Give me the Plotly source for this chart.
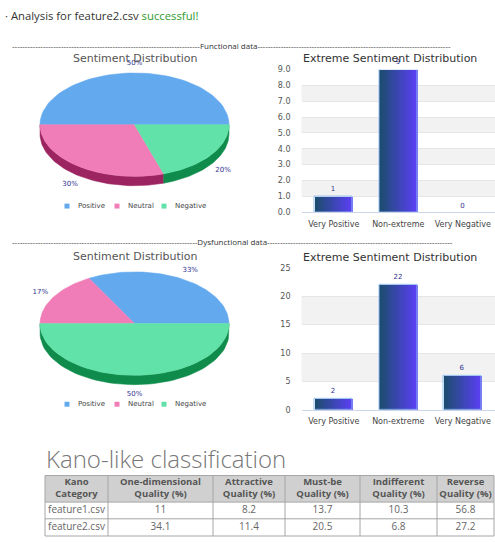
import math
import plotly.graph_objects as go

# ---------------------------------------------------------------- data
sentiment_labels = ["Positive", "Neutral", "Negative"]
functional_share = [50, 30, 20]
dysfunctional_share = [33, 17, 50]

extreme_labels = ["Very Positive", "Non-extreme", "Very Negative"]
functional_extreme = [1, 9, 0]
dysfunctional_extreme = [2, 22, 6]

kano_header = ["Kano<br>Category", "One-dimensional<br>Quality (%)", "Attractive<br>Quality (%)",
               "Must-be<br>Quality (%)", "Indifferent<br>Quality (%)", "Reverse<br>Quality (%)"]
kano_files = ["feature1.csv", "feature2.csv"]
one_dimensional = [11, 34.1]
attractive = [8.2, 11.4]
must_be = [13.7, 20.5]
indifferent = [10.3, 6.8]
reverse = [56.8, 27.2]

# ---------------------------------------------------------------- layout constants
W, H = 495, 542
TOP_COLORS = ["#63a9ee", "#f07db7", "#61e2a8"]
SIDE_COLORS = ["#2d6bb0", "#9c2461", "#0f8c4c"]
LABEL_COLOR = "#33338f"
PIE_SCALE = 94.5          # px per unit radius
PIE_TILT = 52.6 / 94.5    # vertical squash of the top face
PIE_DEPTH = 9.5 / 94.5    # thickness of the disc


def fx(x):
    return x / W


def fy(y):
    return 1 - y / H


fig = go.Figure()


def pie_axes(idx, cx, cy, hw=125, hh=80):
    fig.layout[f"xaxis{idx}"] = dict(domain=[fx(cx - hw), fx(cx + hw)],
                                     range=[-hw / PIE_SCALE, hw / PIE_SCALE],
                                     visible=False, fixedrange=True)
    fig.layout[f"yaxis{idx}"] = dict(domain=[fy(cy + hh), fy(cy - hh)],
                                     range=[-hh / PIE_SCALE, hh / PIE_SCALE],
                                     visible=False, fixedrange=True)


def arc(t0, t1, dy=0.0, n=60):
    pts = []
    for k in range(n + 1):
        t = math.radians(t0 + (t1 - t0) * k / n)
        pts.append((math.cos(t), PIE_TILT * math.sin(t) - dy))
    return pts


def pie3d(values, idx):
    xa, ya = f"x{idx}", f"y{idx}"
    total = float(sum(values))
    spans, start = [], 0.0
    for v in values:
        end = start + 360.0 * v / total
        spans.append((start, end))
        start = end
    # front walls of the disc
    for (t0, t1), col in zip(spans, SIDE_COLORS):
        lo, hi = max(t0, 180.0), min(t1, 360.0)
        if lo < hi:
            pts = arc(lo, hi) + arc(hi, lo, PIE_DEPTH)
            fig.add_trace(go.Scatter(x=[p[0] for p in pts] + [pts[0][0]],
                                     y=[p[1] for p in pts] + [pts[0][1]],
                                     xaxis=xa, yaxis=ya, mode="lines", fill="toself",
                                     fillcolor=col, line=dict(color=col, width=0.5),
                                     hoverinfo="skip", showlegend=False))
    # top faces
    for (t0, t1), col in zip(spans, TOP_COLORS):
        pts = [(0.0, 0.0)] + arc(t0, t1) + [(0.0, 0.0)]
        fig.add_trace(go.Scatter(x=[p[0] for p in pts], y=[p[1] for p in pts],
                                 xaxis=xa, yaxis=ya, mode="lines", fill="toself",
                                 fillcolor=col, line=dict(color=col, width=0.5),
                                 hoverinfo="skip", showlegend=False))
    # percentage labels outside the rim
    lx, ly, lt = [], [], []
    for (t0, t1), v in zip(spans, values):
        tm = math.radians((t0 + t1) / 2)
        s = math.sin(tm)
        lx.append((1 + 15 / PIE_SCALE) * math.cos(tm))
        ly.append((PIE_TILT + 10 / PIE_SCALE) * s - (PIE_DEPTH if s < -0.01 else 0))
        lt.append(f"{round(100 * v / total)}%")
    fig.add_trace(go.Scatter(x=lx, y=ly, text=lt, mode="text", xaxis=xa, yaxis=ya,
                             textfont=dict(family="DejaVu Sans", size=7, color=LABEL_COLOR),
                             cliponaxis=False, hoverinfo="skip", showlegend=False))


def pie_legend(y):
    for name, col, sx in zip(sentiment_labels, TOP_COLORS, [67, 117, 164]):
        fig.add_shape(type="rect", xref="paper", yref="paper",
                      x0=fx(sx - 2.5), x1=fx(sx + 2.5), y0=fy(y + 2.5), y1=fy(y - 2.5),
                      fillcolor=col, line=dict(width=0))
        fig.add_annotation(x=fx(sx + 9), y=fy(y), xref="paper", yref="paper", text=name,
                           showarrow=False, xanchor="left", yanchor="middle",
                           font=dict(family="DejaVu Sans", size=7, color="#444"))


def blend(c0, c1, f):
    a = [int(c0[i:i + 2], 16) for i in (1, 3, 5)]
    b = [int(c1[i:i + 2], 16) for i in (1, 3, 5)]
    return "rgb(%d,%d,%d)" % tuple(round(a[k] + (b[k] - a[k]) * f) for k in range(3))


BAR_W = 0.59
N_SLICE = 24


def bar_chart(values, idx, y0px, y1px, ymax, dtick, fmt):
    xa, ya = f"x{idx if idx > 1 else ''}", f"y{idx if idx > 1 else ''}"
    for i in range(N_SLICE):
        fig.add_trace(go.Bar(x=extreme_labels, y=values, xaxis=xa, yaxis=ya,
                             width=BAR_W / N_SLICE * 1.08,
                             offset=-BAR_W / 2 + i * BAR_W / N_SLICE,
                             marker=dict(color=blend("#1b4d6e", "#5b3ff6", i / (N_SLICE - 1)),
                                         line=dict(width=0)),
                             hoverinfo="skip", showlegend=False))
    fig.add_trace(go.Bar(x=extreme_labels, y=values, xaxis=xa, yaxis=ya,
                         width=BAR_W, offset=-BAR_W / 2,
                         marker=dict(color="rgba(0,0,0,0)",
                                     line=dict(color="#93bdf0",
                                               width=[1 if v else 0 for v in values])),
                         text=[str(v) for v in values], texttemplate="%{text}",
                         textposition="outside", cliponaxis=False,
                         textfont=dict(family="DejaVu Sans", size=7, color=LABEL_COLOR),
                         hoverinfo="skip", showlegend=False))
    key = "" if idx == 1 else str(idx)
    fig.layout[f"xaxis{key}"] = dict(domain=[fx(301.5), 1.0], type="category",
                                     showline=True, linecolor="#ccd6eb", linewidth=1,
                                     showgrid=False, ticks="", ticklabelstandoff=4,
                                     tickfont=dict(family="DejaVu Sans", size=8, color="#444"),
                                     fixedrange=True, anchor=ya)
    fig.layout[f"yaxis{key}"] = dict(domain=[fy(y0px), fy(y1px)], range=[0, ymax],
                                     dtick=dtick, tickformat=fmt, showgrid=True,
                                     gridcolor="#e6e6e6", gridwidth=1, zeroline=False,
                                     showline=False, ticks="", ticklabelstandoff=10,
                                     tickfont=dict(family="DejaVu Sans", size=8, color="#555"),
                                     fixedrange=True, anchor=xa)
    # alternating horizontal bands
    k = 1
    while k * dtick < ymax:
        fig.add_shape(type="rect", xref=f"{xa} domain", yref=ya, x0=0, x1=1,
                      y0=k * dtick, y1=min((k + 1) * dtick, ymax), layer="below",
                      fillcolor="#f2f2f2", line=dict(width=0))
        k += 2


def title(text, x, y, color):
    fig.add_annotation(x=fx(x), y=fy(y), xref="paper", yref="paper", text=text,
                       showarrow=False, xanchor="center", yanchor="middle",
                       font=dict(family="DejaVu Sans", size=11, color=color))


def separator(label, y, n_left, n_right):
    fig.add_annotation(x=fx(10), y=fy(y), xref="paper", yref="paper",
                       text="-" * n_left + label + "-" * n_right,
                       showarrow=False, xanchor="left", yanchor="middle",
                       font=dict(family="Open Sans", size=8, color="#333"))


# ---------------------------------------------------------------- header text
fig.add_annotation(x=fx(3), y=fy(12), xref="paper", yref="paper",
                   text="· Analysis for feature2.csv <span style='color:#2f9a2f'>successful!</span>",
                   showarrow=False, xanchor="left", yanchor="middle",
                   font=dict(family="Open Sans", size=11.3, color="#333"))

# ---------------------------------------------------------------- functional block
separator("Functional data", 42, 73, 75)
pie_axes(3, 134.5, 122.7)
pie3d(functional_share, 3)
title("Sentiment Distribution", 135, 55.5, "#555")
pie_legend(205.5)
bar_chart(functional_extreme, 1, 211.7, 66.7, 9, 1, ".1f")
title("Extreme Sentiment Distribution", 390, 55.5, "#333")

# ---------------------------------------------------------------- dysfunctional block
separator("Dysfunctional data", 242, 72, 72)
pie_axes(4, 134.5, 325)
pie3d(dysfunctional_share, 4)
title("Sentiment Distribution", 135, 257, "#555")
pie_legend(407)
bar_chart(dysfunctional_extreme, 2, 412.7, 268.3, 25, 5, "d")
title("Extreme Sentiment Distribution", 390, 258, "#333")

# ---------------------------------------------------------------- Kano table
fig.add_annotation(x=fx(44), y=fy(462), xref="paper", yref="paper",
                   text="Kano-like classification", showarrow=False,
                   xanchor="left", yanchor="middle",
                   font=dict(family="Open Sans", size=24, color="#777", weight=300))

COL_W = [63, 105, 72, 75, 77, 57]
ROW_H = [27, 17, 17.5]
TBL_LEFT, TBL_TOP = 45, 479.5
col_edges = [0]
for w in COL_W:
    col_edges.append(col_edges[-1] + w)
row_edges = [0]
for h in ROW_H:
    row_edges.append(row_edges[-1] + h)
col_mid = [(a + b) / 2 for a, b in zip(col_edges[:-1], col_edges[1:])]
row_mid = [(a + b) / 2 for a, b in zip(row_edges[:-1], row_edges[1:])]

fig.layout["xaxis5"] = dict(domain=[fx(TBL_LEFT - 1), fx(TBL_LEFT + col_edges[-1] + 1)],
                            range=[-1, col_edges[-1] + 1], visible=False, fixedrange=True)
fig.layout["yaxis5"] = dict(domain=[fy(TBL_TOP + row_edges[-1] + 1), fy(TBL_TOP - 1)],
                            range=[row_edges[-1] + 1, -1], visible=False, fixedrange=True)

GRID = "#a6a6a6"
fig.add_shape(type="rect", xref="x5", yref="y5", x0=0, x1=col_edges[-1],
              y0=0, y1=row_edges[1], fillcolor="#d0d0d0", line=dict(width=0), layer="below")
for xe in col_edges:
    fig.add_shape(type="line", xref="x5", yref="y5", x0=xe, x1=xe, y0=0, y1=row_edges[-1],
                  line=dict(color=GRID, width=1))
for ye in row_edges:
    fig.add_shape(type="line", xref="x5", yref="y5", x0=0, x1=col_edges[-1], y0=ye, y1=ye,
                  line=dict(color=GRID, width=1))

fig.add_trace(go.Scatter(x=col_mid, y=[row_mid[0]] * len(col_mid), text=kano_header,
                         mode="text", xaxis="x5", yaxis="y5", cliponaxis=False,
                         textfont=dict(family="Open Sans", size=9.5, color="#555", weight="bold"),
                         hoverinfo="skip", showlegend=False))
columns = [kano_files, one_dimensional, attractive, must_be, indifferent, reverse]
for r in range(len(kano_files)):
    fig.add_trace(go.Scatter(x=col_mid, y=[row_mid[r + 1]] * len(col_mid),
                             text=[str(c[r]) for c in columns],
                             mode="text", xaxis="x5", yaxis="y5", cliponaxis=False,
                             textfont=dict(family="Open Sans", size=10, color="#666"),
                             hoverinfo="skip", showlegend=False))

fig.update_layout(width=W, height=H, margin=dict(l=0, r=0, t=0, b=0),
                  paper_bgcolor="white", plot_bgcolor="white",
                  barmode="overlay", bargap=0, showlegend=False)

fig.write_html("out.html")
